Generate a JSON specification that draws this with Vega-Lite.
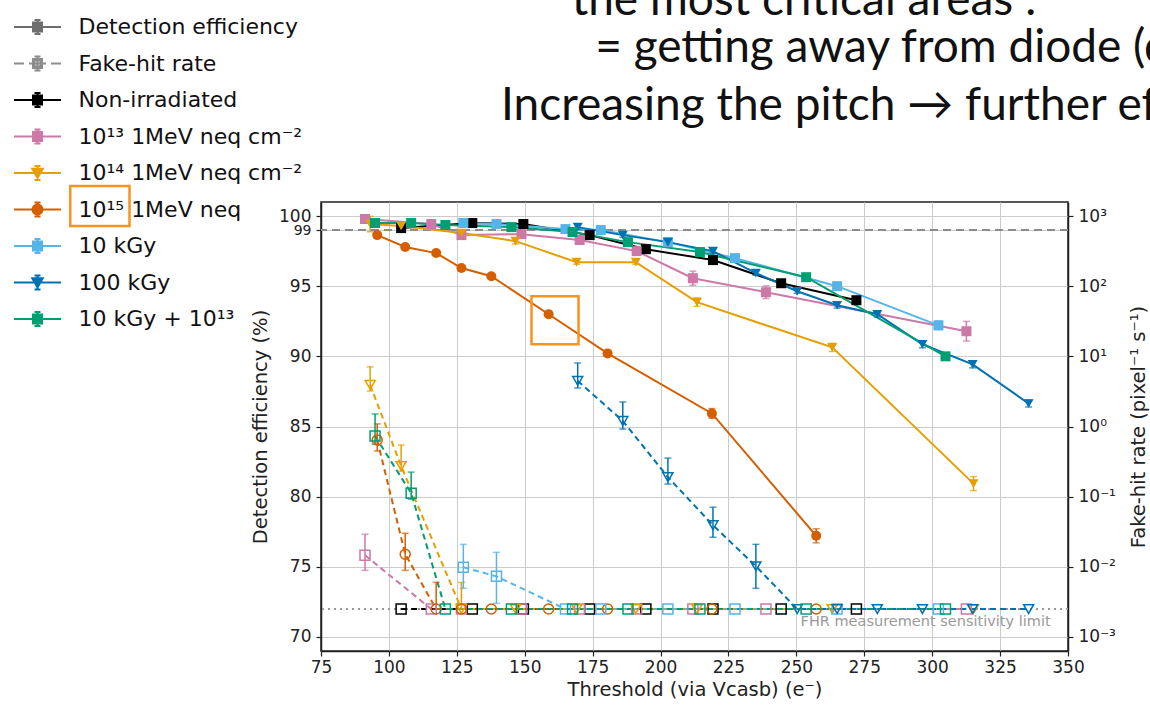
{
  "$schema": "https://vega.github.io/schema/vega-lite/v6.json",
  "width": 747,
  "height": 449,
  "autosize": {"type": "none"},
  "padding": {"left": 321, "top": 202, "right": 82, "bottom": 54},
  "background": "white",
  "config": {
    "view": {"stroke": "#222222", "strokeWidth": 1.5},
    "legend": {"symbolOpacity": 1},
    "axis": {
      "labelFont": "DejaVu Sans", "titleFont": "DejaVu Sans", "labelFontSize": 17, "titleFontSize": 19.5,
      "titleFontWeight": "normal", "labelColor": "#222222", "titleColor": "#222222", "tickColor": "#222222",
      "domainColor": "#222222", "domainWidth": 1.5, "tickSize": 5, "tickWidth": 1.2,
      "gridColor": "#cccccc", "gridWidth": 1
    }
  },
  "title": {
    "text": ["\u200b\u00a0\u00a0\u00a0\u00a0\u00a0\u00a0the most critical areas :", "\u200b\u00a0\u00a0\u00a0\u00a0\u00a0\u00a0\u00a0\u00a0= getting away from diode (d"],
    "subtitle": "Increasing the pitch → further ef",
    "anchor": "start", "frame": "group", "align": "left", "dx": 180, "offset": 60, "dy": 181,
    "font": "Lato", "fontSize": 46, "fontWeight": "normal", "color": "#111111", "lineHeight": 47,
    "subtitleFont": "Lato", "subtitleFontSize": 46, "subtitleColor": "#111111", "subtitlePadding": 12
  },
  "datasets": {
    "eff": [
      {"s":"Non-irradiated","x":104.5,"y":99.14,"e":0.15},
      {"s":"Non-irradiated","x":130.7,"y":99.5,"e":0.1},
      {"s":"Non-irradiated","x":149.5,"y":99.43,"e":0.1},
      {"s":"Non-irradiated","x":173.9,"y":98.64,"e":0.1},
      {"s":"Non-irradiated","x":194.6,"y":97.64,"e":0.15},
      {"s":"Non-irradiated","x":219.3,"y":96.86,"e":0.15},
      {"s":"Non-irradiated","x":244.4,"y":95.21,"e":0.2},
      {"s":"Non-irradiated","x":272.1,"y":94.0,"e":0.2},
      {"s":"10¹³ 1MeV neq cm⁻²","x":91.2,"y":99.79,"e":0.1},
      {"s":"10¹³ 1MeV neq cm⁻²","x":115.6,"y":99.43,"e":0.1},
      {"s":"10¹³ 1MeV neq cm⁻²","x":126.7,"y":98.64,"e":0.15},
      {"s":"10¹³ 1MeV neq cm⁻²","x":148.8,"y":98.71,"e":0.1},
      {"s":"10¹³ 1MeV neq cm⁻²","x":170.2,"y":98.29,"e":0.15},
      {"s":"10¹³ 1MeV neq cm⁻²","x":191.2,"y":97.5,"e":0.15},
      {"s":"10¹³ 1MeV neq cm⁻²","x":211.9,"y":95.57,"e":0.5},
      {"s":"10¹³ 1MeV neq cm⁻²","x":238.8,"y":94.57,"e":0.45},
      {"s":"10¹³ 1MeV neq cm⁻²","x":312.6,"y":91.79,"e":0.7},
      {"s":"10¹⁴ 1MeV neq cm⁻²","x":93.1,"y":99.43,"e":0.55},
      {"s":"10¹⁴ 1MeV neq cm⁻²","x":104.5,"y":99.29,"e":0.15},
      {"s":"10¹⁴ 1MeV neq cm⁻²","x":126.7,"y":98.79,"e":0.15},
      {"s":"10¹⁴ 1MeV neq cm⁻²","x":146.6,"y":98.21,"e":0.2},
      {"s":"10¹⁴ 1MeV neq cm⁻²","x":169.1,"y":96.71,"e":0.15},
      {"s":"10¹⁴ 1MeV neq cm⁻²","x":190.9,"y":96.71,"e":0.15},
      {"s":"10¹⁴ 1MeV neq cm⁻²","x":213.4,"y":93.86,"e":0.3},
      {"s":"10¹⁴ 1MeV neq cm⁻²","x":263.2,"y":90.64,"e":0.3},
      {"s":"10¹⁴ 1MeV neq cm⁻²","x":315.2,"y":80.93,"e":0.5},
      {"s":"10¹⁵ 1MeV neq cm⁻²","x":95.7,"y":98.64,"e":0.15},
      {"s":"10¹⁵ 1MeV neq cm⁻²","x":106.0,"y":97.79,"e":0.15},
      {"s":"10¹⁵ 1MeV neq cm⁻²","x":117.4,"y":97.36,"e":0.15},
      {"s":"10¹⁵ 1MeV neq cm⁻²","x":126.7,"y":96.29,"e":0.15},
      {"s":"10¹⁵ 1MeV neq cm⁻²","x":137.7,"y":95.71,"e":0.15},
      {"s":"10¹⁵ 1MeV neq cm⁻²","x":158.8,"y":93.0,"e":0.2},
      {"s":"10¹⁵ 1MeV neq cm⁻²","x":180.5,"y":90.21,"e":0.2},
      {"s":"10¹⁵ 1MeV neq cm⁻²","x":218.9,"y":85.93,"e":0.35},
      {"s":"10¹⁵ 1MeV neq cm⁻²","x":257.3,"y":77.21,"e":0.5},
      {"s":"10 kGy","x":127.4,"y":99.5,"e":0.1},
      {"s":"10 kGy","x":139.6,"y":99.43,"e":0.1},
      {"s":"10 kGy","x":165.0,"y":99.07,"e":0.1},
      {"s":"10 kGy","x":178.0,"y":99.0,"e":0.1},
      {"s":"10 kGy","x":202.7,"y":98.14,"e":0.1},
      {"s":"10 kGy","x":227.4,"y":97.0,"e":0.15},
      {"s":"10 kGy","x":265.0,"y":95.0,"e":0.25},
      {"s":"10 kGy","x":302.3,"y":92.21,"e":0.3},
      {"s":"100 kGy","x":169.5,"y":99.21,"e":0.15},
      {"s":"100 kGy","x":186.1,"y":98.64,"e":0.15},
      {"s":"100 kGy","x":202.7,"y":98.14,"e":0.1},
      {"s":"100 kGy","x":219.3,"y":97.5,"e":0.15},
      {"s":"100 kGy","x":235.1,"y":95.93,"e":0.15},
      {"s":"100 kGy","x":250.3,"y":94.64,"e":0.15},
      {"s":"100 kGy","x":265.0,"y":93.64,"e":0.2},
      {"s":"100 kGy","x":279.8,"y":93.0,"e":0.2},
      {"s":"100 kGy","x":296.4,"y":90.86,"e":0.25},
      {"s":"100 kGy","x":314.9,"y":89.43,"e":0.25},
      {"s":"100 kGy","x":335.5,"y":86.64,"e":0.25},
      {"s":"10 kGy + 10¹³ 1MeV neq cm⁻²","x":94.9,"y":99.5,"e":0.1},
      {"s":"10 kGy + 10¹³ 1MeV neq cm⁻²","x":108.2,"y":99.5,"e":0.1},
      {"s":"10 kGy + 10¹³ 1MeV neq cm⁻²","x":120.8,"y":99.36,"e":0.1},
      {"s":"10 kGy + 10¹³ 1MeV neq cm⁻²","x":145.1,"y":99.21,"e":0.1},
      {"s":"10 kGy + 10¹³ 1MeV neq cm⁻²","x":167.6,"y":98.86,"e":0.1},
      {"s":"10 kGy + 10¹³ 1MeV neq cm⁻²","x":188.0,"y":98.14,"e":0.1},
      {"s":"10 kGy + 10¹³ 1MeV neq cm⁻²","x":214.5,"y":97.43,"e":0.1},
      {"s":"10 kGy + 10¹³ 1MeV neq cm⁻²","x":253.6,"y":95.64,"e":0.1},
      {"s":"10 kGy + 10¹³ 1MeV neq cm⁻²","x":304.9,"y":90.0,"e":0.2}
    ],
    "fhr": [
      {"s":"Non-irradiated","x":104.5,"f":0.0025},
      {"s":"Non-irradiated","x":130.7,"f":0.0025},
      {"s":"Non-irradiated","x":149.5,"f":0.0025},
      {"s":"Non-irradiated","x":173.9,"f":0.0025},
      {"s":"Non-irradiated","x":194.6,"f":0.0025},
      {"s":"Non-irradiated","x":219.3,"f":0.0025},
      {"s":"Non-irradiated","x":244.4,"f":0.0025},
      {"s":"Non-irradiated","x":272.1,"f":0.0025},
      {"s":"10¹³ 1MeV neq cm⁻²","x":91.2,"f":0.0146,"lo":0.0089,"hi":0.0291},
      {"s":"10¹³ 1MeV neq cm⁻²","x":115.6,"f":0.0025},
      {"s":"10¹³ 1MeV neq cm⁻²","x":126.7,"f":0.0025},
      {"s":"10¹³ 1MeV neq cm⁻²","x":148.8,"f":0.0025},
      {"s":"10¹³ 1MeV neq cm⁻²","x":170.2,"f":0.0025},
      {"s":"10¹³ 1MeV neq cm⁻²","x":191.2,"f":0.0025},
      {"s":"10¹³ 1MeV neq cm⁻²","x":211.9,"f":0.0025},
      {"s":"10¹³ 1MeV neq cm⁻²","x":238.8,"f":0.0025},
      {"s":"10¹³ 1MeV neq cm⁻²","x":312.6,"f":0.0025},
      {"s":"10¹⁴ 1MeV neq cm⁻²","x":93.1,"f":3.92,"lo":3.2,"hi":7.08},
      {"s":"10¹⁴ 1MeV neq cm⁻²","x":104.5,"f":0.273,"lo":0.231,"hi":0.545},
      {"s":"10¹⁴ 1MeV neq cm⁻²","x":126.7,"f":0.0025,"lo":0.0025,"hi":0.006},
      {"s":"10¹⁴ 1MeV neq cm⁻²","x":146.6,"f":0.0025},
      {"s":"10¹⁴ 1MeV neq cm⁻²","x":169.1,"f":0.0025},
      {"s":"10¹⁴ 1MeV neq cm⁻²","x":190.9,"f":0.0025},
      {"s":"10¹⁴ 1MeV neq cm⁻²","x":213.4,"f":0.0025},
      {"s":"10¹⁴ 1MeV neq cm⁻²","x":263.2,"f":0.0025},
      {"s":"10¹⁴ 1MeV neq cm⁻²","x":315.2,"f":0.0025},
      {"s":"10¹⁵ 1MeV neq cm⁻²","x":95.7,"f":0.641,"lo":0.447,"hi":1.09},
      {"s":"10¹⁵ 1MeV neq cm⁻²","x":106.0,"f":0.0151,"lo":0.0089,"hi":0.0301},
      {"s":"10¹⁵ 1MeV neq cm⁻²","x":117.4,"f":0.0025,"lo":0.0025,"hi":0.006},
      {"s":"10¹⁵ 1MeV neq cm⁻²","x":126.7,"f":0.0025},
      {"s":"10¹⁵ 1MeV neq cm⁻²","x":137.7,"f":0.0025},
      {"s":"10¹⁵ 1MeV neq cm⁻²","x":158.8,"f":0.0025},
      {"s":"10¹⁵ 1MeV neq cm⁻²","x":180.5,"f":0.0025},
      {"s":"10¹⁵ 1MeV neq cm⁻²","x":218.9,"f":0.0025},
      {"s":"10¹⁵ 1MeV neq cm⁻²","x":257.3,"f":0.0025},
      {"s":"10 kGy","x":127.4,"f":0.00984,"lo":0.00493,"hi":0.0209},
      {"s":"10 kGy","x":139.6,"f":0.00731,"lo":0.00301,"hi":0.0161},
      {"s":"10 kGy","x":165.0,"f":0.0025},
      {"s":"10 kGy","x":178.0,"f":0.0025},
      {"s":"10 kGy","x":202.7,"f":0.0025},
      {"s":"10 kGy","x":227.4,"f":0.0025},
      {"s":"10 kGy","x":265.0,"f":0.0025},
      {"s":"10 kGy","x":302.3,"f":0.0025},
      {"s":"100 kGy","x":169.5,"f":4.47,"lo":3.55,"hi":8.07},
      {"s":"100 kGy","x":186.1,"f":1.2,"lo":0.92,"hi":2.24},
      {"s":"100 kGy","x":202.7,"f":0.19,"lo":0.151,"hi":0.355},
      {"s":"100 kGy","x":219.3,"f":0.0392,"lo":0.0264,"hi":0.0708},
      {"s":"100 kGy","x":235.1,"f":0.0102,"lo":0.00493,"hi":0.0209},
      {"s":"100 kGy","x":250.3,"f":0.0025},
      {"s":"100 kGy","x":265.0,"f":0.0025},
      {"s":"100 kGy","x":279.8,"f":0.0025},
      {"s":"100 kGy","x":296.4,"f":0.0025},
      {"s":"100 kGy","x":314.9,"f":0.0025},
      {"s":"100 kGy","x":335.5,"f":0.0025},
      {"s":"10 kGy + 10¹³ 1MeV neq cm⁻²","x":94.9,"f":0.732,"lo":0.56,"hi":1.51},
      {"s":"10 kGy + 10¹³ 1MeV neq cm⁻²","x":108.2,"f":0.112,"lo":0.092,"hi":0.224},
      {"s":"10 kGy + 10¹³ 1MeV neq cm⁻²","x":120.8,"f":0.0025},
      {"s":"10 kGy + 10¹³ 1MeV neq cm⁻²","x":145.1,"f":0.0025},
      {"s":"10 kGy + 10¹³ 1MeV neq cm⁻²","x":167.6,"f":0.0025},
      {"s":"10 kGy + 10¹³ 1MeV neq cm⁻²","x":188.0,"f":0.0025},
      {"s":"10 kGy + 10¹³ 1MeV neq cm⁻²","x":214.5,"f":0.0025},
      {"s":"10 kGy + 10¹³ 1MeV neq cm⁻²","x":253.6,"f":0.0025},
      {"s":"10 kGy + 10¹³ 1MeV neq cm⁻²","x":304.9,"f":0.0025}
    ]
  },
  "layer": [
    {
      "data": {"name": "eff"},
      "layer": [
        {
          "data": {"values": [{"v": 99}]},
          "mark": {"type": "rule", "color": "#8c8c8c", "strokeDash": [8, 5], "strokeWidth": 2},
          "encoding": {
            "y": {"field": "v", "type": "quantitative", "title": "Detection efficiency (%)",
              "scale": {"domain": [69, 101], "nice": false, "zero": false},
              "axis": {"orient": "left", "values": [70, 75, 80, 85, 90, 95, 99, 100], "grid": true, "labelOverlap": false,
                "labelPadding": 5, "titlePadding": 8,
                "labelFontSize": {"condition": {"test": "datum.value == 99", "value": 14}, "value": 17}}}
          }
        },
        {
          "transform": [{"filter": "false"}],
          "mark": {"type": "point", "filled": true, "opacity": 1},
          "encoding": {
            "x": {"field": "x", "type": "quantitative", "title": "Threshold (via Vcasb) (e⁻)",
              "scale": {"domain": [75, 350], "nice": false, "zero": false},
              "axis": {"values": [75, 100, 125, 150, 175, 200, 225, 250, 275, 300, 325, 350], "grid": true, "labelFlush": false, "labelOverlap": false, "labelPadding": 3, "titlePadding": 5}},
            "y": {"field": "y", "type": "quantitative", "title": "Detection efficiency (%)"},
            "shape": {"field": "s", "type": "nominal", "legend": null,
              "scale": {"domain": ["Detection efficiency", "Fake-hit rate", "Non-irradiated", "10¹³ 1MeV neq cm⁻²", "10¹⁴ 1MeV neq cm⁻²", "10¹⁵ 1MeV neq cm⁻²", "10 kGy", "100 kGy", "10 kGy + 10¹³ 1MeV neq cm⁻²"],
                "range": [
                  "M-4.7,0H4.7M0,-1.4V1.4M-0.6,-1.4H0.6M-0.6,1.4H0.6M-0.9,-0.9H0.9V0.9H-0.9Z",
                  "M-4.7,0H-2.7M-1.7,0H1.7M2.7,0H4.7M0,-1.4V1.4M-0.6,-1.4H0.6M-0.6,1.4H0.6M-0.9,-0.9H0.9V0.9H-0.9ZM-0.6,-0.6V0.6H0.6V-0.6Z",
                  "M-4.7,0H4.7M0,-1.4V1.4M-0.6,-1.4H0.6M-0.6,1.4H0.6M-0.9,-0.9H0.9V0.9H-0.9Z",
                  "M-4.7,0H4.7M0,-1.4V1.4M-0.6,-1.4H0.6M-0.6,1.4H0.6M-0.9,-0.9H0.9V0.9H-0.9Z",
                  "M-4.7,0H4.7M0,-1.4V1.4M-0.6,-1.4H0.6M-0.6,1.4H0.6M-1.05,-0.85H1.05L0,1Z",
                  "M-4.7,0H4.7M0,-1.4V1.4M-0.6,-1.4H0.6M-0.6,1.4H0.6M1,0A1,1,0,1,1,-1,0A1,1,0,1,1,1,0Z",
                  "M-4.7,0H4.7M0,-1.4V1.4M-0.6,-1.4H0.6M-0.6,1.4H0.6M-0.9,-0.9H0.9V0.9H-0.9Z",
                  "M-4.7,0H4.7M0,-1.4V1.4M-0.6,-1.4H0.6M-0.6,1.4H0.6M-1.05,-0.85H1.05L0,1Z",
                  "M-4.7,0H4.7M0,-1.4V1.4M-0.6,-1.4H0.6M-0.6,1.4H0.6M-0.9,-0.9H0.9V0.9H-0.9Z"
                ]}},
            "color": {"field": "s", "type": "nominal",
              "scale": {"domain": ["Detection efficiency", "Fake-hit rate", "Non-irradiated", "10¹³ 1MeV neq cm⁻²", "10¹⁴ 1MeV neq cm⁻²", "10¹⁵ 1MeV neq cm⁻²", "10 kGy", "100 kGy", "10 kGy + 10¹³ 1MeV neq cm⁻²"],
                "range": ["#6e6e6e", "#8c8c8c", "#000000", "#cc79a7", "#e69f00", "#d55e00", "#56b4e9", "#0072b2", "#009e73"]},
              "legend": {
                "title": null, "orient": "none", "legendX": -314, "legendY": -193, "direction": "vertical",
                "padding": 7, "labelFont": "DejaVu Sans", "labelFontSize": 22, "labelColor": "#111111", "labelLimit": 400,
                "labelOffset": 30, "symbolOffset": 12.5, "symbolSize": 100, "symbolStrokeWidth": 2, "symbolOpacity": 1, "rowPadding": 14.5,
                "labelExpr": "datum.label == '10¹⁵ 1MeV neq cm⁻²' ? '10¹⁵ 1MeV neq' : (datum.label == '10 kGy + 10¹³ 1MeV neq cm⁻²' ? '10 kGy + 10¹³' : datum.label)"
              }}
          }
        },
        {
          "mark": {"type": "line", "strokeWidth": 2},
          "encoding": {
            "x": {"field": "x", "type": "quantitative", "title": "Threshold (via Vcasb) (e⁻)"},
            "y": {"field": "y", "type": "quantitative", "title": "Detection efficiency (%)"},
            "color": {"field": "s", "type": "nominal"}
          }
        },
        {
          "mark": {"type": "errorbar", "ticks": {"size": 7}, "thickness": 1.5},
          "encoding": {
            "x": {"field": "x", "type": "quantitative", "title": "Threshold (via Vcasb) (e⁻)"},
            "y": {"field": "y", "type": "quantitative", "title": "Detection efficiency (%)"},
            "yError": {"field": "e"},
            "color": {"field": "s", "type": "nominal"}
          }
        },
        {
          "mark": {"type": "point", "filled": true, "opacity": 1, "size": 100,
            "shape": {"expr": "(datum.s === '10¹⁴ 1MeV neq cm⁻²' || datum.s === '100 kGy') ? 'triangle-down' : (datum.s === '10¹⁵ 1MeV neq cm⁻²' ? 'circle' : 'square')"}},
          "encoding": {
            "x": {"field": "x", "type": "quantitative", "title": "Threshold (via Vcasb) (e⁻)"},
            "y": {"field": "y", "type": "quantitative", "title": "Detection efficiency (%)"},
            "color": {"field": "s", "type": "nominal"}
          }
        },
        {
          "data": {"values": [{"x1": -17.3, "x2": 4.5, "y1": 102.14, "y2": 99.29}, {"x1": 152.5, "x2": 169.8, "y1": 94.29, "y2": 90.86}]},
          "mark": {"type": "rect", "fill": "transparent", "stroke": "#f7931e", "strokeWidth": 2.5},
          "encoding": {
            "x": {"field": "x1", "type": "quantitative", "title": "Threshold (via Vcasb) (e⁻)"},
            "x2": {"field": "x2"},
            "y": {"field": "y1", "type": "quantitative", "title": "Detection efficiency (%)"},
            "y2": {"field": "y2"}
          }
        }
      ]
    },
    {
      "data": {"name": "fhr"},
      "layer": [
        {
          "data": {"values": [{"v": 0.0025}]},
          "mark": {"type": "rule", "color": "#999999", "strokeDash": [2, 4], "strokeWidth": 2},
          "encoding": {
            "y": {"field": "v", "type": "quantitative", "title": "Fake-hit rate (pixel⁻¹ s⁻¹)",
              "scale": {"type": "log", "domain": [0.000631, 1585], "nice": false},
              "axis": {"orient": "right", "values": [0.001, 0.01, 0.1, 1, 10, 100, 1000], "grid": false, "labelPadding": 5, "titlePadding": 14,
                "titleAngle": 270, "titleBaseline": "top",
                "labelExpr": "datum.value < 0.005 ? '10⁻³' : (datum.value < 0.05 ? '10⁻²' : (datum.value < 0.5 ? '10⁻¹' : (datum.value < 5 ? '10⁰' : (datum.value < 50 ? '10¹' : (datum.value < 500 ? '10²' : '10³')))))"}}
          }
        },
        {
          "data": {"values": [{"x": 343.6, "v": 0.00166, "t": "FHR measurement sensitivity limit"}]},
          "mark": {"type": "text", "align": "right", "baseline": "middle", "color": "#9a9a9a", "fontSize": 14.5, "font": "DejaVu Sans"},
          "encoding": {
            "x": {"field": "x", "type": "quantitative", "title": "Threshold (via Vcasb) (e⁻)"},
            "y": {"field": "v", "type": "quantitative", "title": "Fake-hit rate (pixel⁻¹ s⁻¹)"},
            "text": {"field": "t"}
          }
        },
        {
          "mark": {"type": "line", "strokeWidth": 2, "strokeDash": [6, 4]},
          "encoding": {
            "x": {"field": "x", "type": "quantitative", "title": "Threshold (via Vcasb) (e⁻)"},
            "y": {"field": "f", "type": "quantitative", "title": "Fake-hit rate (pixel⁻¹ s⁻¹)"},
            "color": {"field": "s", "type": "nominal"}
          }
        },
        {
          "transform": [{"filter": "isValid(datum.lo)"}],
          "mark": {"type": "errorbar", "ticks": {"size": 7}, "thickness": 1.5},
          "encoding": {
            "x": {"field": "x", "type": "quantitative", "title": "Threshold (via Vcasb) (e⁻)"},
            "y": {"field": "lo", "type": "quantitative", "title": "Fake-hit rate (pixel⁻¹ s⁻¹)"},
            "y2": {"field": "hi"},
            "color": {"field": "s", "type": "nominal"}
          }
        },
        {
          "mark": {"type": "point", "filled": false, "opacity": 1, "size": 100, "strokeWidth": 1.5,
            "shape": {"expr": "(datum.s === '10¹⁴ 1MeV neq cm⁻²' || datum.s === '100 kGy') ? 'triangle-down' : (datum.s === '10¹⁵ 1MeV neq cm⁻²' ? 'circle' : 'square')"}},
          "encoding": {
            "x": {"field": "x", "type": "quantitative", "title": "Threshold (via Vcasb) (e⁻)"},
            "y": {"field": "f", "type": "quantitative", "title": "Fake-hit rate (pixel⁻¹ s⁻¹)"},
            "color": {"field": "s", "type": "nominal"}
          }
        }
      ]
    }
  ],
  "resolve": {"scale": {"y": "independent"}}
}
